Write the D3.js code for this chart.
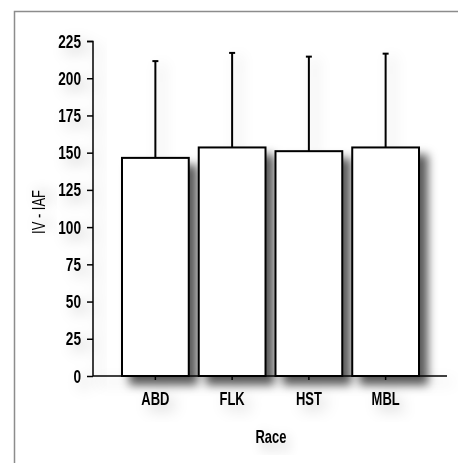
<!DOCTYPE html>
<html>
<head>
<meta charset="utf-8">
<script src="https://cdn.jsdelivr.net/npm/d3@7"></script>
<style>
  html, body { margin: 0; padding: 0; background: #fff; }
  svg { display: block; }
  .lbl { font-family: "Liberation Sans", Arial, sans-serif; }
</style>
</head>
<body>
<div id="chart"></div>
<script>
  // data
  var races = ['ABD', 'FLK', 'HST', 'MBL'];
  var means = [146.5, 153.5, 151, 153.5];
  var upper = [211.5, 217, 214.5, 216.5];
  var yTicks = [0, 25, 50, 75, 100, 125, 150, 175, 200, 225];

  var width = 458, height = 463;
  var sx = 0.72; // squeeze text to mimic a narrow face

  var svg = d3.select('#chart').append('svg')
      .attr('width', width)
      .attr('height', height);

  var defs = svg.append('defs');
  var shadow = defs.append('filter')
      .attr('id', 'shadow')
      .attr('x', '-20%').attr('y', '-20%')
      .attr('width', '140%').attr('height', '140%');
  shadow.append('feDropShadow')
      .attr('dx', 8).attr('dy', 8)
      .attr('stdDeviation', 5)
      .attr('flood-color', '#000')
      .attr('flood-opacity', 0.65);

  var soft = defs.append('filter')
      .attr('id', 'soft')
      .attr('x', '-40%').attr('y', '-40%')
      .attr('width', '180%').attr('height', '180%');
  soft.append('feDropShadow')
      .attr('dx', 6).attr('dy', 6)
      .attr('stdDeviation', 7)
      .attr('flood-color', '#000')
      .attr('flood-opacity', 0.22);

  // frame
  svg.append('rect')
    .attr('x', 14.5).attr('y', 11.5)
    .attr('width', width).attr('height', height)
    .attr('fill', '#fff')
    .attr('stroke', '#8c8c8c')
    .attr('stroke-width', 1.5);

  var x = d3.scaleBand()
      .domain(races)
      .range([117, 424])
      .paddingInner(0.13)
      .paddingOuter(0.065);

  var y = d3.scaleLinear()
      .domain([0, 225])
      .range([376, 41]);

  var g = svg.append('g');

  // y axis
  var yAxis = g.append('g')
      .attr('class', 'lbl')
      .attr('transform', 'translate(93,0)')
      .attr('filter', 'url(#soft)')
      .call(d3.axisLeft(y).tickValues(yTicks).tickSize(6).tickPadding(5));
  yAxis.select('.domain').attr('stroke-width', 1.5).attr('d', 'M-6,41.5H0V376');
  yAxis.selectAll('.tick line').attr('stroke-width', 1.5);
  yAxis.selectAll('text')
      .attr('font-size', 19)
      .attr('font-weight', 'bold')
      .attr('fill', '#000')
      .attr('x', -12 / sx)
      .attr('transform', 'scale(' + sx + ',1)');

  // x axis
  var xAxis = g.append('g')
      .attr('class', 'lbl')
      .attr('transform', 'translate(0,376)')
      .attr('filter', 'url(#soft)')
      .call(d3.axisBottom(x).tickSize(4).tickPadding(12));
  xAxis.select('.domain').attr('stroke-width', 1.5).attr('d', 'M93,0H447');
  xAxis.selectAll('.tick line').attr('stroke-width', 1.5);
  xAxis.selectAll('text')
      .attr('font-size', 18)
      .attr('font-weight', 'bold')
      .attr('fill', '#000')
      .attr('transform', 'scale(' + sx + ',1)');

  // error bars (upper half only)
  var eb = g.append('g').attr('filter', 'url(#soft)');
  races.forEach(function(r, i) {
    var cx = x(r) + x.bandwidth() / 2;
    eb.append('line')
      .attr('x1', cx).attr('x2', cx)
      .attr('y1', y(means[i])).attr('y2', y(upper[i]))
      .attr('stroke', '#000').attr('stroke-width', 2);
    eb.append('line')
      .attr('x1', cx - 3).attr('x2', cx + 3)
      .attr('y1', y(upper[i])).attr('y2', y(upper[i]))
      .attr('stroke', '#000').attr('stroke-width', 2);
  });

  // bars
  g.append('g')
    .attr('filter', 'url(#shadow)')
    .selectAll('rect')
    .data(races)
    .enter().append('rect')
      .attr('x', function(d) { return x(d); })
      .attr('y', function(d, i) { return y(means[i]); })
      .attr('width', x.bandwidth())
      .attr('height', function(d, i) { return y(0) - y(means[i]); })
      .attr('fill', '#fff')
      .attr('stroke', '#000')
      .attr('stroke-width', 2);

  // titles
  g.append('text')
    .attr('class', 'lbl')
    .attr('transform', 'translate(271,443) scale(' + sx + ',1)')
    .attr('text-anchor', 'middle')
    .attr('font-size', 18)
    .attr('font-weight', 'bold')
    .attr('filter', 'url(#soft)')
    .text('Race');

  g.append('text')
    .attr('class', 'lbl')
    .attr('transform', 'translate(45,212) rotate(-90) scale(' + sx + ',1)')
    .attr('text-anchor', 'middle')
    .attr('font-size', 18)
    .attr('filter', 'url(#soft)')
    .text('IV - IAF');
</script>
</body>
</html>
